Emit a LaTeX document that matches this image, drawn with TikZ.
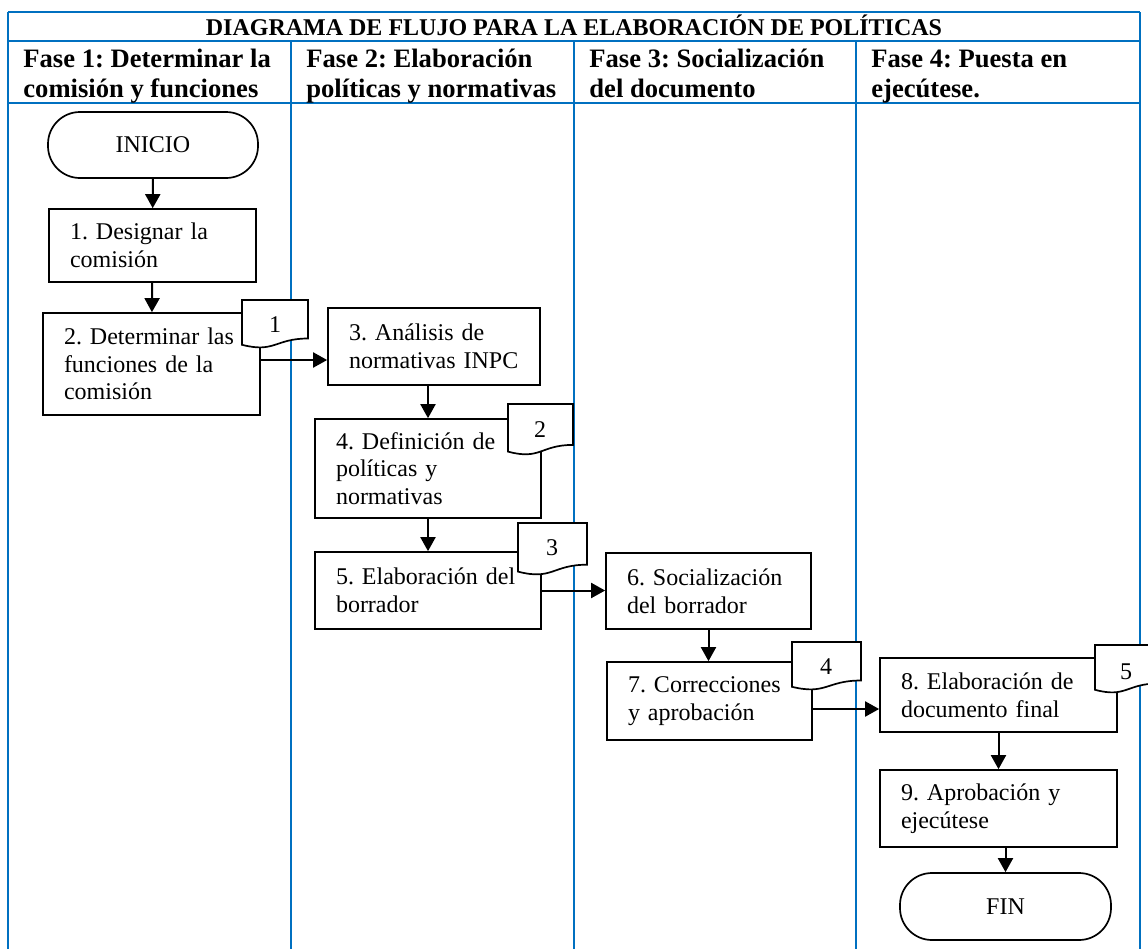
\documentclass[tikz,border=0pt]{standalone}
\usepackage{fontspec}
\setmainfont{Liberation Serif}
\usepackage{tikz}
\definecolor{azul}{RGB}{0,112,192}
\usetikzlibrary{arrows.meta}
\frenchspacing

\begin{document}
\begin{tikzpicture}[
caja/.style={draw, line width=0.85pt, fill=white, align=left, inner xsep=10.5pt, inner ysep=0pt, font=\fontsize{12}{13.8}\selectfont},
term/.style={draw, line width=0.85pt, fill=white, rounded corners=16pt, inner sep=0pt, font=\fontsize{12}{13.8}\selectfont},
doc/.style={draw, fill=white, line width=0.85pt},
num/.style={inner sep=0pt, font=\fontsize{12}{13.8}\selectfont},
fase/.style={anchor=north west, align=left, inner sep=0pt, font=\fontsize{13.3}{15}\selectfont\bfseries},
linea/.style={line width=0.9pt, color=azul},
flecha/.style={line width=1pt, color=black, -{Triangle[length=7pt,width=7.5pt]}}]
\useasboundingbox (0pt,0pt) rectangle (574pt,-474.5pt);
\clip (0pt,0pt) rectangle (574pt,-474.5pt);
% tabla
\draw [linea] (4pt,-6pt) -- (570pt,-6pt);
\draw [linea] (4pt,-20.5pt) -- (570pt,-20.5pt);
\draw [linea] (4pt,-51.5pt) -- (570pt,-51.5pt);
\draw [linea] (4pt,-6pt) -- (4pt,-476pt);
\draw [linea] (570pt,-6pt) -- (570pt,-476pt);
\draw [linea] (145.5pt,-20.5pt) -- (145.5pt,-476pt);
\draw [linea] (287pt,-20.5pt) -- (287pt,-476pt);
\draw [linea] (428pt,-20.5pt) -- (428pt,-476pt);
\node (t) [anchor=base, inner sep=0pt, font=\fontsize{12}{13.8}\selectfont\bfseries] at (287pt,-17.5pt) {DIAGRAMA DE FLUJO PARA LA ELABORACIÓN DE POLÍTICAS};
\node (f1) [fase] at (11.5pt,-23pt) {\strut Fase 1: Determinar la\\comisión y funciones\strut};
\node (f2) [fase] at (153pt,-23pt) {\strut Fase 2: Elaboración\\políticas y normativas\strut};
\node (f3) [fase] at (294.5pt,-23pt) {\strut Fase 3: Socialización\\del documento\strut};
\node (f4) [fase] at (435.5pt,-23pt) {\strut Fase 4: Puesta en\\ejecútese.\strut};
% pasos
\node (0) [term, minimum width=105pt, minimum height=33pt] at (76.5pt,-72.5pt) {INICIO};
\node (1) [caja, text width=82.5pt, minimum height=36.5pt] at (76.25pt,-122.75pt) {1. Designar la\\comisión};
\node (2) [caja, text width=87.5pt, minimum height=51pt] at (75.75pt,-182pt) {2. Determinar las\\funciones de la\\comisión};
\node (3) [caja, text width=85pt, minimum height=38.5pt] at (217pt,-173.25pt) {3. Análisis de\\normativas INPC};
\node (4) [caja, text width=92pt, minimum height=49.5pt] at (214pt,-234.25pt) {4. Definición de\\políticas y\\normativas};
\node (5) [caja, text width=92pt, minimum height=38.5pt] at (214pt,-295.25pt) {5. Elaboración del\\borrador};
\node (6) [caja, text width=81.5pt, minimum height=38pt] at (354.25pt,-295.5pt) {6. Socialización\\del borrador};
\node (7) [caja, text width=81.5pt, minimum height=39pt] at (354.75pt,-350.5pt) {7. Correcciones\\y aprobación};
\node (8) [caja, text width=97.5pt, minimum height=37pt] at (499.25pt,-347.5pt) {8. Elaboración de\\documento final};
\node (9) [caja, text width=97.5pt, minimum height=38.5pt] at (499.25pt,-404.25pt) {9. Aprobación y\\ejecútese};
\node (10) [term, minimum width=105.5pt, minimum height=33.5pt] at (502.75pt,-453.25pt) {FIN};
% documentos
\draw [doc] (121pt,-150pt) -- (154pt,-150pt) -- (154pt,-169.25pt) .. controls (137.5pt,-169.25pt) and (137.5pt,-176.6pt) .. (121pt,-172.4pt) -- cycle;
\draw [doc] (254pt,-202pt) -- (286.5pt,-202pt) -- (286.5pt,-222.45pt) .. controls (270.25pt,-222.45pt) and (270.25pt,-230.2pt) .. (254pt,-225.8pt) -- cycle;
\draw [doc] (259pt,-261.5pt) -- (293.5pt,-261.5pt) -- (293.5pt,-282.35pt) .. controls (276.25pt,-282.35pt) and (276.25pt,-290.3pt) .. (259pt,-285.8pt) -- cycle;
\draw [doc] (396pt,-321pt) -- (430.5pt,-321pt) -- (430.5pt,-340.25pt) .. controls (413.25pt,-340.25pt) and (413.25pt,-347.6pt) .. (396pt,-343.4pt) -- cycle;
\draw [doc] (547.5pt,-322.5pt) -- (579pt,-322.5pt) -- (579pt,-341.75pt) .. controls (563.25pt,-341.75pt) and (563.25pt,-349.1pt) .. (547.5pt,-344.9pt) -- cycle;
\node (d1) [num] at (137.5pt,-162.5pt) {1};
\node (d2) [num] at (270pt,-215pt) {2};
\node (d3) [num] at (276pt,-274pt) {3};
\node (d4) [num] at (413pt,-333.5pt) {4};
\node (d5) [num] at (563pt,-336pt) {5};
% flechas
\draw [flecha] (0) to (1);
\draw [flecha] (1) to (2);
\draw [flecha] ([yshift=2pt]2.east) to ([yshift=2pt]2.east -| 3.west);
\draw [flecha] ([xshift=-3pt]3.south) to (4.north);
\draw [flecha] (4) to (5);
\draw [flecha] (5.east) to (5.east -| 6.west);
\draw [flecha] (6.south) to (6.south |- 7.north);
\draw [flecha] ([yshift=-4pt]7.east) to ([yshift=-4pt]7.east -| 8.west);
\draw [flecha] (8) to (9);
\draw [flecha] ([xshift=3.5pt]9.south) to (10.north);
\end{tikzpicture}
\end{document}
